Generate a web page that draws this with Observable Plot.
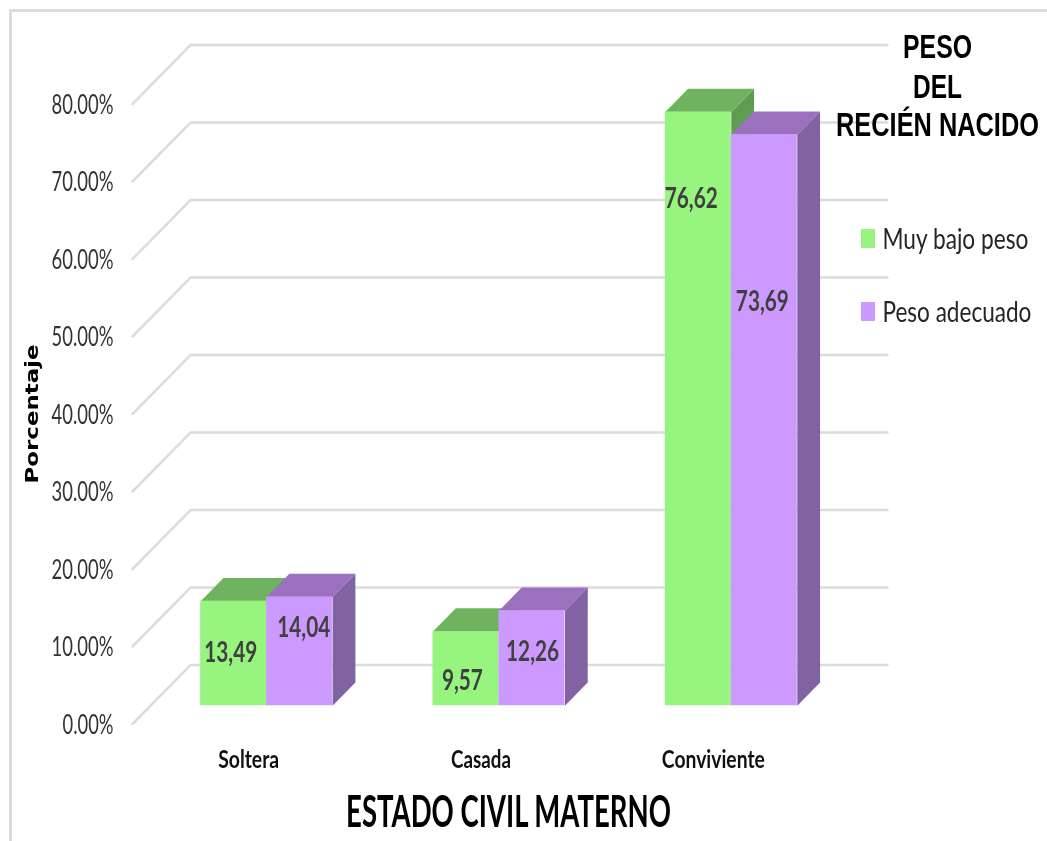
<!DOCTYPE html>
<html lang="es">
<head>
<meta charset="utf-8">
<script src="https://cdn.jsdelivr.net/npm/d3@7"></script>
<script src="https://cdn.jsdelivr.net/npm/@observablehq/plot@0.6"></script>
<style>
  html, body { margin: 0; padding: 0; background: #fff; overflow: hidden; }
  #page { position: relative; width: 1047px; height: 841px; filter: blur(0.4px); }
  #border { position: absolute; left: 9px; top: 9px; right: 0; bottom: 0; border-top: 3px solid #dcdcdc; border-left: 3px solid #dcdcdc; }
  #chart { position: absolute; left: 0; top: 0; }
  .swatch { position: absolute; left: 861px; width: 14px; height: 19px; }
</style>
</head>
<body>
<div id="page">
  <div id="border"></div>
  <div id="chart"></div>
</div>
<script>
const categories = ["Soltera", "Casada", "Conviviente"];
const muyBajoPeso = [13.49, 9.57, 76.62];
const pesoAdecuado = [14.04, 12.26, 73.69];
const muyBajoText = ["13,49", "9,57", "76,62"];
const pesoText = ["14,04", "12,26", "73,69"];
const muyBajoLabelPos = [[-0.077, 9.2], [0.92, 5.6], [1.905, 67.8]];
const pesoLabelPos = [[0.237, 12.4], [1.222, 9.3], [2.211, 54.4]];
const yTicks = [0, 10, 20, 30, 40, 50, 60, 70, 80];
const titleLines = ["PESO", "DEL", "RECIÉN NACIDO"];
const legendNames = ["Muy bajo peso", "Peso adecuado"];
const yAxisTitle = "Porcentaje";
const xAxisTitle = "ESTADO CIVIL MATERNO";

const greenFaces = {front: "#97f47f", top: "#6fb361", side: "#5f9c52"};
const purpleFaces = {front: "#cc99ff", top: "#9b71bd", side: "#8162a3"};

// the reference's condensed, vertically stretched lettering: rendered widths in pixels
const textWidths = new Map([
  ["0.00%", 51], ["10.00%", 62], ["20.00%", 62], ["30.00%", 62], ["40.00%", 62],
  ["50.00%", 62], ["60.00%", 62], ["70.00%", 62], ["80.00%", 62],
  ["Soltera", 61], ["Casada", 60], ["Conviviente", 103],
  ["13,49", 53], ["14,04", 53], ["9,57", 41], ["12,26", 53], ["76,62", 53], ["73,69", 53],
  ["Porcentaje", 139], ["ESTADO CIVIL MATERNO", 325],
  ["PESO", 69], ["DEL", 49], ["RECIÉN NACIDO", 203],
  ["Muy bajo peso", 146], ["Peso adecuado", 149]
]);

// oblique projection: d = 0 front of the floor, d = 1 back wall
const depthX = 0.2495, depthY = 7.61;
const barHalf = 0.284, barD0 = 0.31, barD1 = 0.703;
const pt = (u, v, d) => ({x: u + d * depthX, y: v + d * depthY});

const gridRows = yTicks.flatMap(v => [
  {v, ...pt(-0.5, v, 0)},
  {v, ...pt(-0.5, v, 1)},
  {v, ...pt(2.5, v, 1)}
]);

function facesFor(values, u0, u1, faces, key) {
  const rows = [], fronts = [];
  values.forEach((v, i) => {
    const a = i + u0, b = i + u1;
    rows.push(...[
      pt(b, 0, barD0), pt(b, 0, barD1), pt(b, v, barD1), pt(b, v, barD0)
    ].map(p => ({...p, id: `${key}${i}side`, color: faces.side})));
    rows.push(...[
      pt(a, v, barD0), pt(b, v, barD0), pt(b, v, barD1), pt(a, v, barD1)
    ].map(p => ({...p, id: `${key}${i}top`, color: faces.top})));
    const f0 = pt(a, 0, barD0), f1 = pt(b, v, barD0);
    fronts.push({x1: f0.x, x2: f1.x, y1: f0.y, y2: f1.y, color: faces.front});
  });
  return {rows, fronts};
}
const green = facesFor(muyBajoPeso, -barHalf, 0, greenFaces, "g");
const purple = facesFor(pesoAdecuado, 0, barHalf, purpleFaces, "p");
const labels = [
  ...muyBajoText.map((t, i) => ({t, x: muyBajoLabelPos[i][0], y: muyBajoLabelPos[i][1]})),
  ...pesoText.map((t, i) => ({t, x: pesoLabelPos[i][0], y: pesoLabelPos[i][1]}))
];

const font = 'Lato, "Open Sans", sans-serif';
const headFont = '"Liberation Sans", sans-serif';
const titleDy = [-56.5, -16.5, 21.5];
const legendDy = [136, 209];
const plot = Plot.plot({
  width: 1047,
  height: 841,
  marginLeft: 132,
  marginRight: 218,
  marginTop: 103.5,
  marginBottom: 117.5,
  style: {fontFamily: font, background: "transparent", overflow: "visible"},
  x: {domain: [-0.5, 2.5]},
  y: {domain: [0, 80]},
  color: {type: "identity"},
  marks: [
    Plot.line(gridRows, {x: "x", y: "y", z: "v", stroke: "#dcdcdc", strokeWidth: 2.5, curve: "linear"}),
    Plot.line([...green.rows, ...purple.rows], {x: "x", y: "y", z: "id", fill: "color", stroke: "none", curve: "linear"}),
    Plot.rect([...green.fronts, ...purple.fronts], {x1: "x1", x2: "x2", y1: "y1", y2: "y2", fill: "color"}),
    Plot.axisY({ticks: yTicks, tickSize: 0, tickPadding: 19, dy: 1, tickFormat: d => d.toFixed(2) + "%", fontSize: 27, fill: "#333", label: null}),
    Plot.axisX({ticks: [0, 1, 2], tickSize: 0, tickPadding: 26, tickFormat: i => categories[i], fontSize: 25, fontWeight: "bold", fill: "#111", label: null}),
    Plot.text(labels, {x: "x", y: "y", text: "t", fontSize: 28, fontWeight: "bold", fill: "#404040"}),
    Plot.text([yAxisTitle], {frameAnchor: "left", textAnchor: "middle", dx: -100, rotate: -90, fontSize: 17, fontWeight: "bold", fontFamily: '"DejaVu Sans", sans-serif', fill: "#000"}),
    Plot.text([xAxisTitle], {frameAnchor: "bottom", lineAnchor: "middle", dx: 27.5, dy: 88.5, fontSize: 44, fontWeight: "bold", fill: "#000"}),
    ...titleLines.map((t, i) => Plot.text([t], {frameAnchor: "top-left", textAnchor: "middle", lineAnchor: "middle", dx: 805, dy: titleDy[i], fontSize: 33, fontWeight: "bold", fontFamily: headFont, fill: "#000"})),
    ...legendNames.map((t, i) => Plot.text([t], {frameAnchor: "top-left", textAnchor: "start", lineAnchor: "middle", dx: 750, dy: legendDy[i], fontSize: 28, fill: "#262626"}))
  ]
});
document.getElementById("chart").appendChild(plot);
// condense each text to its reference width with a real scale, so its box is its drawn box
plot.querySelectorAll("text").forEach(el => {
  const w = textWidths.get(el.textContent.trim());
  if (w) {
    const sx = w / el.getComputedTextLength();
    const t = el.getAttribute("transform");
    el.setAttribute("transform", `${t || ""} scale(${sx},1)`.trim());
  }
});

const page = document.getElementById("page");
[greenFaces.front, purpleFaces.front].forEach((c, i) => {
  const s = document.createElement("div");
  s.className = "swatch";
  s.style.top = [229, 302][i] + "px";
  s.style.background = c;
  page.appendChild(s);
});
</script>
</body>
</html>
